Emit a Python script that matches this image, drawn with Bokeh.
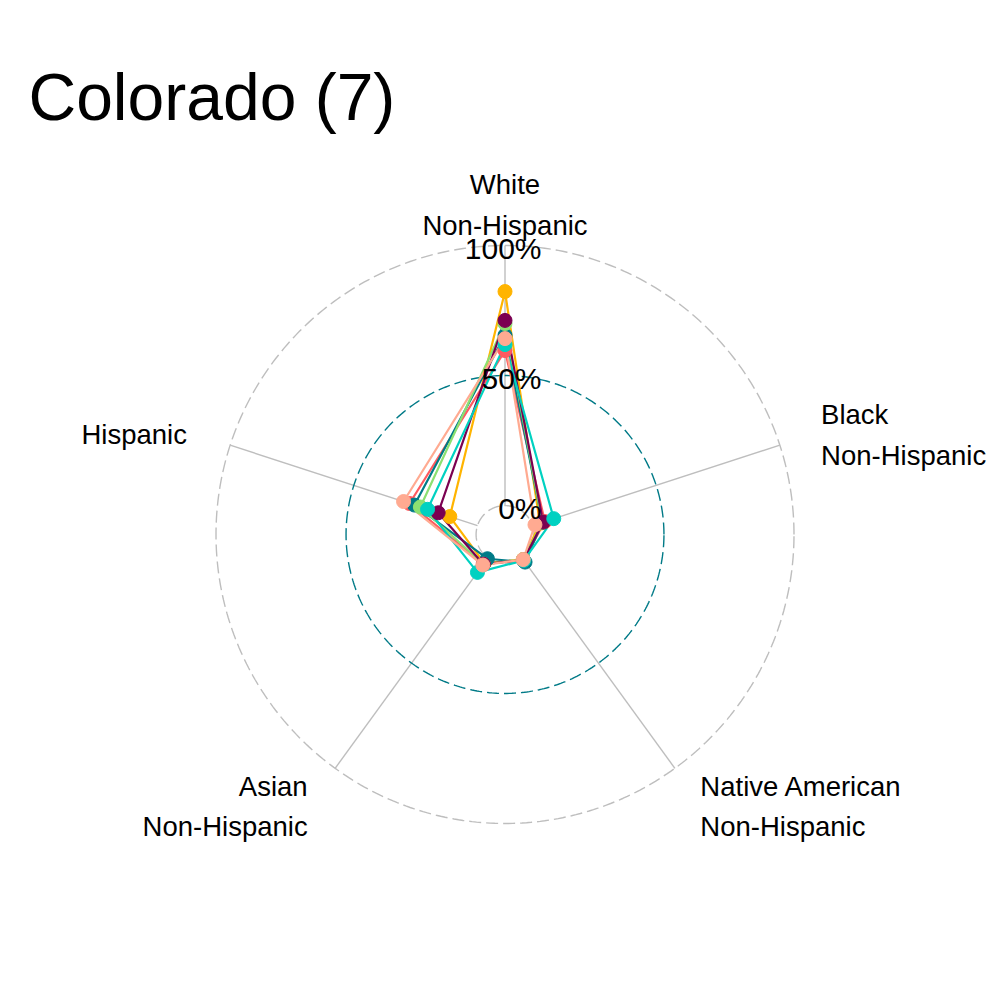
import numpy as np
from bokeh.plotting import figure
from bokeh.models import Range1d
from bokeh.embed import file_html
from bokeh.resources import INLINE
from bokeh.core.properties import value

# ---------------- data ----------------
title_text = "Colorado (7)"
axis_names = ["White\nNon-Hispanic", "Black\nNon-Hispanic",
              "Native American\nNon-Hispanic", "Asian\nNon-Hispanic", "Hispanic"]
group_colors = ["#FF5A5F", "#FFB400", "#007A87", "#8CE071", "#7B0051", "#00D1C1", "#FFAA91"]
white = [0.596, 0.823, 0.655, 0.700, 0.712, 0.619, 0.642]
black = [0.050, 0.030, 0.040, 0.040, 0.043, 0.086, 0.010]
native = [0.010, 0.008, 0.020, 0.008, 0.010, 0.012, 0.008]
asian = [0.030, 0.025, 0.004, 0.030, 0.030, 0.069, 0.034]
hispanic = [0.275, 0.112, 0.255, 0.231, 0.159, 0.202, 0.299]
grid_values = [0.0, 0.5, 1.0]
grid_labels = ["0%", "50%", "100%"]

# ---------------- geometry ----------------
grid_min, grid_max = 0.0, 1.0
centre_y = grid_min - (1 / 9) * (grid_max - grid_min)


def rad(v):
    return (v - centre_y) / (grid_max - centre_y)


n_axes = len(axis_names)
angles = [np.pi / 2 - 2 * np.pi * k / n_axes for k in range(n_axes)]

PX = 289.0
CX, CY = 504.5, 534.0
W, H = 1000, 1000

p = figure(width=W, height=H, output_backend="svg", toolbar_location=None,
           x_range=Range1d(-CX / PX, (W - CX) / PX),
           y_range=Range1d(-(H - CY) / PX, CY / PX),
           min_border=0, outline_line_color=None)
p.axis.visible = False
p.grid.visible = False
p.background_fill_color = "white"
p.border_fill_color = "white"

# axis lines
for a in angles:
    r0, r1 = rad(grid_min), rad(grid_max)
    p.line([r0 * np.cos(a), r1 * np.cos(a)], [r0 * np.sin(a), r1 * np.sin(a)],
           line_color="#BEBEBE", line_width=1.4)

# grid circles
grid_cols = ["#BEBEBE", "#007A87", "#BEBEBE"]
th = np.linspace(0, 2 * np.pi, 400)
for gv, gc in zip(grid_values, grid_cols):
    r = rad(gv)
    p.line(r * np.cos(th), r * np.sin(th), line_color=gc, line_width=1.4,
           line_dash="12 5")

# series
series = list(zip(white, black, native, asian, hispanic))
coords = []
for vals in series:
    xs = [rad(v) * np.cos(a) for v, a in zip(vals, angles)]
    ys = [rad(v) * np.sin(a) for v, a in zip(vals, angles)]
    coords.append((xs, ys))
for (xs, ys), c in zip(coords, group_colors):
    p.line(xs + [xs[0]], ys + [ys[0]], line_color=c, line_width=2.2)
for (xs, ys), c in zip(coords, group_colors):
    p.scatter(xs, ys, size=14, fill_color=c, line_color=c, marker="circle")

# grid labels
gl_x = [36.5 / PX] * len(grid_values)
gl_y = [rad(g) - 3 / PX for g in grid_values]
p.text(gl_x, gl_y, text=grid_labels, text_align="right", text_baseline="middle",
       text_font=value("Liberation Sans"), text_font_size="30px", text_color="black")

# axis labels
lab_r = 1.15
for name, a in zip(axis_names, angles):
    x = lab_r * np.cos(a)
    y = lab_r * np.sin(a)
    if abs(x) < 1e-6:
        align = "center"
    elif x > 0:
        align = "left"
    else:
        align = "right"
    p.text([x - (2 / PX if align == "right" else 0)], [y - 3 / PX], text=[name],
           text_align=align, text_baseline="middle",
           text_font=value("Liberation Sans"), text_font_size="27.5px",
           text_line_height=1.31, text_color="black")

# title
p.text([(28 - CX) / PX], [(CY - 96) / PX], text=[title_text], text_align="left",
       text_baseline="alphabetic", text_font=value("Liberation Sans"),
       text_font_size="66px", text_color="black")

open("out.html", "w").write(file_html(p, INLINE))
